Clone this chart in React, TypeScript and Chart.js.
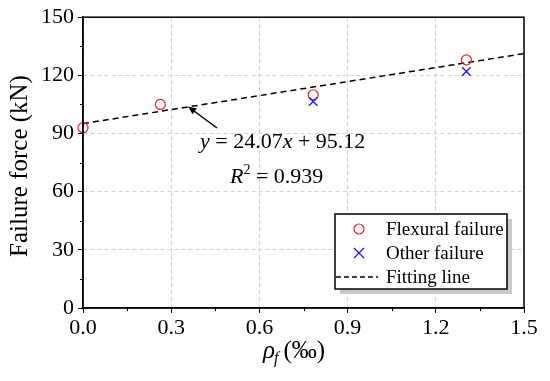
import React, { useEffect, useRef } from "react";
import { Chart, registerables } from "chart.js";
Chart.register(...registerables);

const flexuralX = [0, 0.263, 0.783, 1.304];
const flexuralY = [93, 105, 110, 128];
const otherX = [0.783, 1.304];
const otherY = [106.5, 122];
const fitX = [0, 1.5];
const fitY = [95.12, 131.23];
const xTicks = [0, 0.3, 0.6, 0.9, 1.2, 1.5];
const yTicks = [0, 30, 60, 90, 120, 150];
const legendLabels = ["Flexural failure", "Other failure", "Fitting line"];
const yTitle = "Failure force (kN)";
const equationText = ["y", " = 24.07", "x", " + 95.12"];
const r2Text = "0.939";

const SERIF = '"Liberation Serif", "Times New Roman", serif';
const RED = "#e8262a";
const BLUE = "#1a1ae6";

const customPlugin = {
  id: "custom",
  afterDraw(chart: any) {
    const { ctx, chartArea: a, scales } = chart;
    const xs = scales.x;
    const ys = scales.y;
    ctx.save();
    // frame
    ctx.strokeStyle = "#000";
    ctx.lineWidth = 1.5;
    ctx.setLineDash([]);
    ctx.strokeRect(a.left, a.top, a.right - a.left, a.bottom - a.top);
    // minor ticks
    ctx.lineWidth = 1;
    for (let i = 0; i < xTicks.length - 1; i++) {
      const v = (xTicks[i] + xTicks[i + 1]) / 2;
      const px = Math.round(xs.getPixelForValue(v)) + 0.5;
      ctx.beginPath();
      ctx.moveTo(px, a.bottom);
      ctx.lineTo(px, a.bottom + 3);
      ctx.stroke();
    }
    for (let i = 0; i < yTicks.length - 1; i++) {
      const v = (yTicks[i] + yTicks[i + 1]) / 2;
      const py = Math.round(ys.getPixelForValue(v)) + 0.5;
      ctx.beginPath();
      ctx.moveTo(a.left, py);
      ctx.lineTo(a.left - 3, py);
      ctx.stroke();
    }
    // y title
    ctx.fillStyle = "#000";
    ctx.font = `25px ${SERIF}`;
    ctx.textAlign = "center";
    ctx.textBaseline = "middle";
    ctx.save();
    ctx.translate(20, 166);
    ctx.rotate(-Math.PI / 2);
    ctx.fillText(yTitle, 0, 0);
    ctx.restore();
    // x title
    ctx.textAlign = "left";
    ctx.textBaseline = "alphabetic";
    ctx.font = `italic 25px ${SERIF}`;
    let tx = 263;
    const base = 358;
    ctx.fillText("ρ", tx, base);
    tx += ctx.measureText("ρ").width;
    ctx.font = `italic 16px ${SERIF}`;
    ctx.fillText("f", tx - 1, base + 5);
    tx += ctx.measureText("f").width + 4;
    ctx.font = `25px ${SERIF}`;
    ctx.fillText("(‰)", tx, base);

    // arrow
    ctx.strokeStyle = "#000";
    ctx.lineWidth = 1.5;
    const ax0 = 217, ay0 = 128, ax1 = 188, ay1 = 106.5;
    ctx.beginPath();
    ctx.moveTo(ax0, ay0);
    ctx.lineTo(ax1 + 4, ay1 + 3);
    ctx.stroke();
    const ang = Math.atan2(ay1 - ay0, ax1 - ax0);
    ctx.beginPath();
    ctx.moveTo(ax1, ay1);
    ctx.lineTo(ax1 - 9 * Math.cos(ang - 0.4), ay1 - 9 * Math.sin(ang - 0.4));
    ctx.lineTo(ax1 - 9 * Math.cos(ang + 0.4), ay1 - 9 * Math.sin(ang + 0.4));
    ctx.closePath();
    ctx.fillStyle = "#000";
    ctx.fill();

    // equation
    let ex = 200;
    const ey = 148;
    equationText.forEach((s, i) => {
      ctx.font = (i % 2 === 0 ? "italic " : "") + `22px ${SERIF}`;
      ctx.fillText(s, ex, ey);
      ex += ctx.measureText(s).width;
    });
    let rx = 230;
    const ry = 183;
    ctx.font = `italic 22px ${SERIF}`;
    ctx.fillText("R", rx, ry);
    rx += ctx.measureText("R").width;
    ctx.font = `14px ${SERIF}`;
    ctx.fillText("2", rx, ry - 9);
    rx += ctx.measureText("2").width;
    ctx.font = `22px ${SERIF}`;
    ctx.fillText(" = " + r2Text, rx, ry);

    // legend
    const lx = 335, ly = 214, lw = 172, lh = 75;
    ctx.fillStyle = "#c8c8c8";
    ctx.fillRect(lx + 5, ly + 5, lw, lh);
    ctx.fillStyle = "#fff";
    ctx.fillRect(lx, ly, lw, lh);
    ctx.strokeStyle = "#000";
    ctx.lineWidth = 1.5;
    ctx.strokeRect(lx, ly, lw, lh);
    const rows = [229, 253, 277];
    ctx.font = `19px ${SERIF}`;
    ctx.textBaseline = "middle";
    ctx.fillStyle = "#000";
    legendLabels.forEach((t, i) => ctx.fillText(t, 386, rows[i] + 1));
    // circle
    ctx.strokeStyle = RED;
    ctx.lineWidth = 1.2;
    ctx.beginPath();
    ctx.arc(359, rows[0], 5, 0, Math.PI * 2);
    ctx.stroke();
    // cross
    ctx.strokeStyle = BLUE;
    ctx.beginPath();
    ctx.moveTo(354, rows[1] - 5);
    ctx.lineTo(364, rows[1] + 5);
    ctx.moveTo(364, rows[1] - 5);
    ctx.lineTo(354, rows[1] + 5);
    ctx.stroke();
    // dashed line
    ctx.strokeStyle = "#000";
    ctx.lineWidth = 1.5;
    ctx.setLineDash([5, 3]);
    ctx.beginPath();
    ctx.moveTo(336, rows[2]);
    ctx.lineTo(378, rows[2]);
    ctx.stroke();
    ctx.restore();
  },
};

export default function App() {
  const ref = useRef<HTMLCanvasElement>(null);
  useEffect(() => {
    const chart = new Chart(ref.current!, {
      type: "scatter",
      data: {
        datasets: [
          {
            label: "Fitting line",
            data: fitX.map((x, i) => ({ x, y: fitY[i] })),
            showLine: true,
            borderColor: "#000",
            borderWidth: 1.5,
            borderDash: [6, 4],
            pointRadius: 0,
            order: 3,
            clip: false,
          },
          {
            label: legendLabels[0],
            data: flexuralX.map((x, i) => ({ x, y: flexuralY[i] })),
            pointStyle: "circle",
            pointRadius: 5,
            borderColor: RED,
            backgroundColor: "rgba(0,0,0,0)",
            borderWidth: 1.2,
            order: 2,
            clip: false,
          },
          {
            label: legendLabels[1],
            data: otherX.map((x, i) => ({ x, y: otherY[i] })),
            pointStyle: "crossRot",
            pointRadius: 6,
            borderColor: BLUE,
            borderWidth: 1.3,
            order: 1,
            clip: false,
          },
        ],
      },
      options: {
        animation: false,
        responsive: false,
        maintainAspectRatio: false,
        layout: { padding: { left: 0, right: 26, top: 16, bottom: 0 } },
        plugins: { legend: { display: false }, tooltip: { enabled: false } },
        scales: {
          x: {
            type: "linear",
            min: 0,
            max: 1.5,
            afterBuildTicks: (s: any) => {
              s.ticks = xTicks.map((v) => ({ value: v }));
            },
            afterFit: (s: any) => {
              s.height = 73;
            },
            ticks: {
              color: "#000",
              font: { family: SERIF, size: 22 },
              padding: 2,
              maxRotation: 0,
              callback: (v: any) => Number(v).toFixed(1),
            },
            grid: {
              color: "#d2d2d2",
              lineWidth: 1,
              tickColor: "#000",
              tickLength: 5,
              tickWidth: 1,
            },
            border: { color: "#000", width: 1.5, dash: [4, 3] },
          },
          y: {
            type: "linear",
            min: 0,
            max: 150,
            afterBuildTicks: (s: any) => {
              s.ticks = yTicks.map((v) => ({ value: v }));
            },
            afterFit: (s: any) => {
              s.width = 83;
            },
            ticks: {
              color: "#000",
              font: { family: SERIF, size: 22 },
              padding: 4,
              callback: (v: any) => String(v),
            },
            grid: {
              color: "#d2d2d2",
              lineWidth: 1,
              tickColor: "#000",
              tickLength: 5,
              tickWidth: 1,
            },
            border: { color: "#000", width: 1.5, dash: [4, 3] },
          },
        },
      },
      plugins: [customPlugin],
    });
    return () => chart.destroy();
  }, []);
  return (
    <div style={{ position: "fixed", left: 0, top: 0, width: 550, height: 381, background: "#fff" }}>
      <canvas ref={ref} width={550} height={381} style={{ width: 550, height: 381 }} />
    </div>
  );
}
